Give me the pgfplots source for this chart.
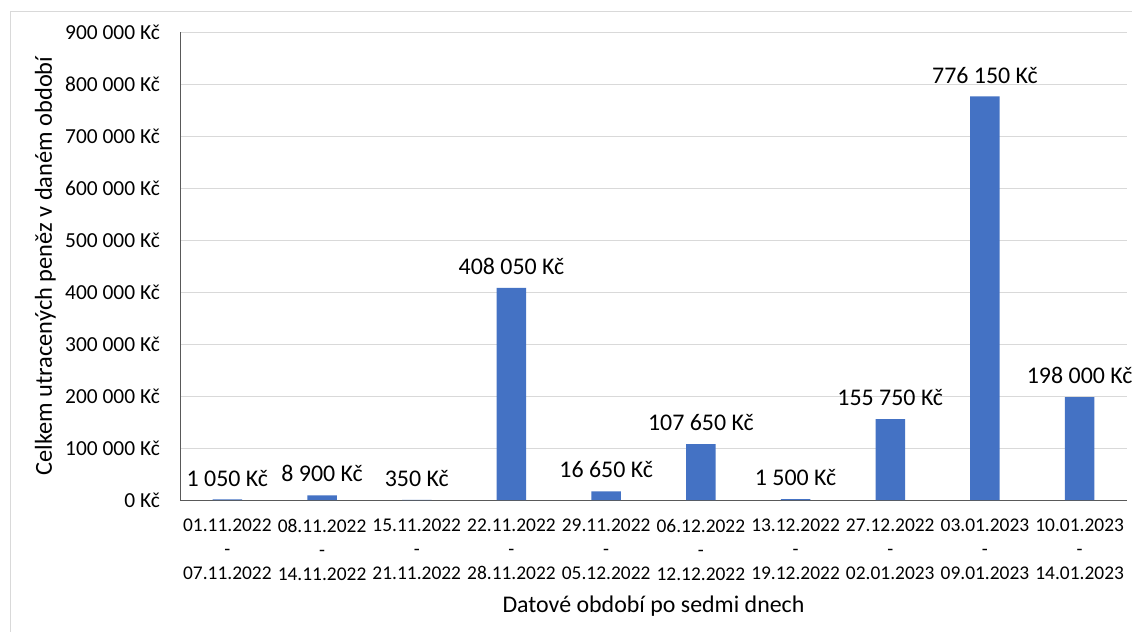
\documentclass[border=0pt]{standalone}
\usepackage{pgfplots}
\pgfplotsset{compat=1.18}
\usepackage{fontspec}
\setmainfont{Carlito}
\definecolor{barblue}{HTML}{4472C4}
\definecolor{gridgray}{HTML}{D9D9D9}
\definecolor{axisgray}{HTML}{595959}
\begin{document}
\begin{tikzpicture}
\useasboundingbox (0,0) rectangle (1132bp,632bp);
\fill[white] (0,0) rectangle (1132bp,632bp);
\draw[gridgray, line width=1bp] (10bp,-10bp) rectangle (1145bp,620bp);
\begin{axis}[
  at={(180bp,132bp)}, anchor=south west,
  scale only axis,
  width=947bp, height=468bp,
  xmin=-0.5, xmax=9.5,
  ymin=0, ymax=900000,
  scaled y ticks=false,
  axis x line*=bottom, axis y line*=left,
  axis line style={axisgray, line width=1bp, -},
  major tick length=0pt,
  ymajorgrids,
  grid style={gridgray, line width=1bp},
  ytick={0,100000,200000,300000,400000,500000,600000,700000,800000,900000},
  yticklabels={0 Kč,100 000 Kč,200 000 Kč,300 000 Kč,400 000 Kč,500 000 Kč,600 000 Kč,700 000 Kč,800 000 Kč,900 000 Kč},
  yticklabel style={font=\fontsize{21.5}{24}\selectfont, inner sep=0pt, xshift=-20bp},
  xtick={0,...,9},
  xticklabels={
    {01.11.2022\\-\\07.11.2022},
    {08.11.2022\\-\\14.11.2022},
    {15.11.2022\\-\\21.11.2022},
    {22.11.2022\\-\\28.11.2022},
    {29.11.2022\\-\\05.12.2022},
    {06.12.2022\\-\\12.12.2022},
    {13.12.2022\\-\\19.12.2022},
    {27.12.2022\\-\\02.01.2023},
    {03.01.2023\\-\\09.01.2023},
    {10.01.2023\\-\\14.01.2023}},
  xticklabel style={font=\fontsize{19.5}{24}\selectfont, align=center, anchor=north, inner sep=0pt, yshift=-19bp},
  xlabel={Datové období po sedmi dnech},
  xlabel style={font=\fontsize{24}{28}\selectfont, at={([yshift=-112bp]axis description cs:0.5,0)}, anchor=base, inner sep=0pt},
  ylabel={Celkem utracených peněz v daném období},
  ylabel style={font=\fontsize{24.5}{28}\selectfont, at={([xshift=-128bp]axis description cs:0,0.5)}, anchor=base, inner sep=0pt},
  clip=false,
]
\addplot[ybar, bar width=29.5bp, fill=barblue, draw=none,
  point meta=explicit symbolic,
  nodes near coords,
  every node near coord/.append style={font=\fontsize{24}{28}\selectfont, anchor=south, inner sep=0pt, yshift=13bp, text=black}]
coordinates {
  (0,1050) [1 050 Kč]
  (1,8900) [8 900 Kč]
  (2,350) [350 Kč]
  (3,408050) [408 050 Kč]
  (4,16650) [16 650 Kč]
  (5,107650) [107 650 Kč]
  (6,1500) [1 500 Kč]
  (7,155750) [155 750 Kč]
  (8,776150) [776 150 Kč]
  (9,198000) [198 000 Kč]
};
\end{axis}
\end{tikzpicture}
\end{document}
